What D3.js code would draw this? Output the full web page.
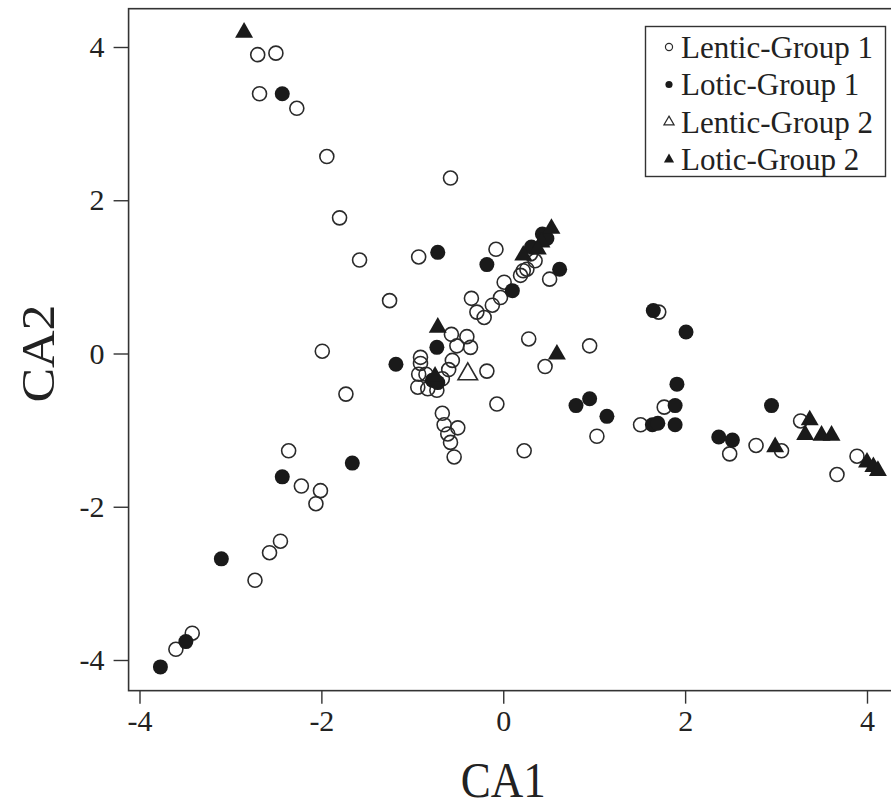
<!DOCTYPE html>
<meta charset="utf-8">
<style>
body { margin: 0; background: #fff; }
text { font-family: "Liberation Serif", "DejaVu Serif", serif; fill: #222; }
</style>
<body>
<script src="https://d3js.org/d3.v7.min.js"></script>
<script>

width = 891;
height = 810;

// CA scores, one list per group
lenticG1 = [
  [-2.70,3.90],[-2.50,3.92],[-2.68,3.39],[-2.27,3.20],[-1.94,2.57],[-1.80,1.77],[-1.58,1.22],
  [-0.58,2.29],[-0.93,1.26],[-0.08,1.36],[0.30,1.30],[0.26,1.10],[0.19,1.02],[0.35,1.21],[0.22,1.08],
  [0.51,0.97],[0.01,0.93],[-0.03,0.73],[-0.12,0.63],[-0.35,0.72],[-0.29,0.54],[-0.21,0.47],
  [-1.25,0.69],[-0.57,0.25],[-0.40,0.22],[-0.51,0.10],[-0.36,0.08],[0.28,0.19],[0.95,0.10],
  [0.46,-0.17],[-0.91,-0.05],[-0.91,-0.13],[-0.93,-0.27],[-0.56,-0.09],[-0.60,-0.21],[-0.18,-0.23],
  [-0.94,-0.44],[-0.83,-0.46],[-0.73,-0.48],[-0.67,-0.33],[-0.85,-0.27],[-0.07,-0.66],
  [-0.67,-0.78],[-0.65,-0.93],[-0.50,-0.97],[-0.61,-1.05],[-0.58,-1.16],[-0.54,-1.35],[0.23,-1.27],
  [1.71,0.54],[1.77,-0.70],[1.51,-0.93],[1.03,-1.08],[2.49,-1.31],[2.78,-1.20],[3.06,-1.27],
  [3.27,-0.88],[3.89,-1.34],[3.67,-1.58],[-1.99,0.03],[-1.73,-0.53],[-2.36,-1.27],[-2.22,-1.73],
  [-2.01,-1.79],[-2.06,-1.96],[-2.45,-2.45],[-2.57,-2.60],[-2.73,-2.96],[-3.42,-3.65],[-3.60,-3.86]
];
loticG1 = [
  [-2.43,3.39],[-0.72,1.32],[-0.18,1.16],[0.43,1.56],[0.48,1.50],[0.31,1.39],[0.62,1.10],[0.10,0.82],
  [-0.73,0.08],[-1.18,-0.14],[-0.78,-0.35],[-0.72,-0.38],[0.80,-0.68],[0.95,-0.59],[1.14,-0.82],
  [1.65,0.56],[2.01,0.28],[1.91,-0.40],[1.89,-0.68],[1.64,-0.93],[1.70,-0.91],[1.89,-0.93],
  [2.37,-1.09],[2.52,-1.13],[2.95,-0.68],[-1.66,-1.43],[-2.43,-1.61],[-3.10,-2.68],[-3.49,-3.76],[-3.77,-4.09]
];
lenticG2 = [[-0.39,-0.27]];
loticG2 = [
  [-2.85,4.19],[0.53,1.63],[0.42,1.45],[0.22,1.28],[0.38,1.36],[-0.72,0.34],[0.59,-0.01],[-0.75,-0.30],
  [2.99,-1.22],[3.37,-0.87],[3.32,-1.06],[3.50,-1.07],[3.61,-1.07],[4.00,-1.42],[4.07,-1.48],[4.12,-1.53]
];

legendLabels = ["Lentic-Group 1", "Lotic-Group 1", "Lentic-Group 2", "Lotic-Group 2"];
ticks = [-4, -2, 0, 2, 4];
xlim = [-4.12, 4.3];
ylim = [-4.4, 4.5];

x = d3.scaleLinear([-4, 4], [139.5, 867]);
y = d3.scaleLinear([-4, 4], [660, 47]);

var svg = d3.select("body").append("svg")
    .attr("width", width)
    .attr("height", height);

// plot frame
svg.append("rect")
    .attr("x", x(xlim[0])).attr("y", y(ylim[1]))
    .attr("width", x(xlim[1]) - x(xlim[0]))
    .attr("height", y(ylim[0]) - y(ylim[1]))
    .attr("fill", "none").attr("stroke", "#333").attr("stroke-width", 1.6);

xAxis = svg.append("g")
    .attr("transform", `translate(0,${y(ylim[0])})`)
    .call(d3.axisBottom(x).tickValues(ticks).tickSize(13).tickPadding(6).tickFormat(d => String(d)));
yAxis = svg.append("g")
    .attr("transform", `translate(${x(xlim[0])},0)`)
    .call(d3.axisLeft(y).tickValues(ticks).tickSize(15).tickPadding(9).tickFormat(d => String(d)));

[xAxis, yAxis].forEach(a => {
  a.select(".domain").remove();
  a.selectAll("line").attr("stroke", "#333").attr("stroke-width", 1.4);
  a.selectAll("text")
      .style("font-family", '"Liberation Serif", serif')
      .style("font-size", "30px")
      .attr("fill", "#222");
});

svg.append("text")
    .attr("transform", `translate(${x(0)},797) scale(0.9,1)`)
    .attr("text-anchor", "middle")
    .style("font-size", "50px")
    .text("CA1");
svg.append("text")
    .attr("transform", `translate(54,${y(0)}) rotate(-90) scale(1,0.9)`)
    .attr("text-anchor", "middle")
    .style("font-size", "52px")
    .text("CA2");

tri = d3.symbol(d3.symbolTriangle, 140);
bigTri = d3.symbol(d3.symbolTriangle, 165);

svg.append("g").selectAll("circle")
  .data(lenticG1)
  .join("circle")
    .attr("cx", d => x(d[0])).attr("cy", d => y(d[1])).attr("r", 7)
    .attr("fill", "none").attr("stroke", "#2a2a2a").attr("stroke-width", 1.6);

svg.append("g").selectAll("circle")
  .data(loticG1)
  .join("circle")
    .attr("cx", d => x(d[0])).attr("cy", d => y(d[1])).attr("r", 7.5)
    .attr("fill", "#1a1a1a");

svg.append("g").selectAll("path")
  .data(lenticG2)
  .join("path")
    .attr("d", bigTri)
    .attr("transform", d => `translate(${x(d[0])},${y(d[1])})`)
    .attr("fill", "none").attr("stroke", "#2a2a2a").attr("stroke-width", 1.6);

svg.append("g").selectAll("path")
  .data(loticG2)
  .join("path")
    .attr("d", tri)
    .attr("transform", d => `translate(${x(d[0])},${y(d[1])})`)
    .attr("fill", "#1a1a1a");

// legend
legend = svg.append("g");
legend.append("rect")
    .attr("x", 645.5).attr("y", 26.5).attr("width", 240).attr("height", 150)
    .attr("fill", "#fff").attr("stroke", "#333").attr("stroke-width", 1.4);

rows = legend.selectAll("g")
  .data(legendLabels)
  .join("g")
    .attr("transform", (d, i) => `translate(669,${47 + i * 37.5})`);

rows.append("path")
    .attr("d", (d, i) => i < 2 ? d3.symbol(d3.symbolCircle, 40)() : d3.symbol(d3.symbolTriangle, 45)())
    .attr("fill", (d, i) => i % 2 ? "#1a1a1a" : "none")
    .attr("stroke", (d, i) => i % 2 ? "none" : "#2a2a2a")
    .attr("stroke-width", 1.2);

rows.append("text")
    .attr("x", 12).attr("dy", "0.35em")
    .style("font-size", "31px")
    .text(d => d);

</script>
